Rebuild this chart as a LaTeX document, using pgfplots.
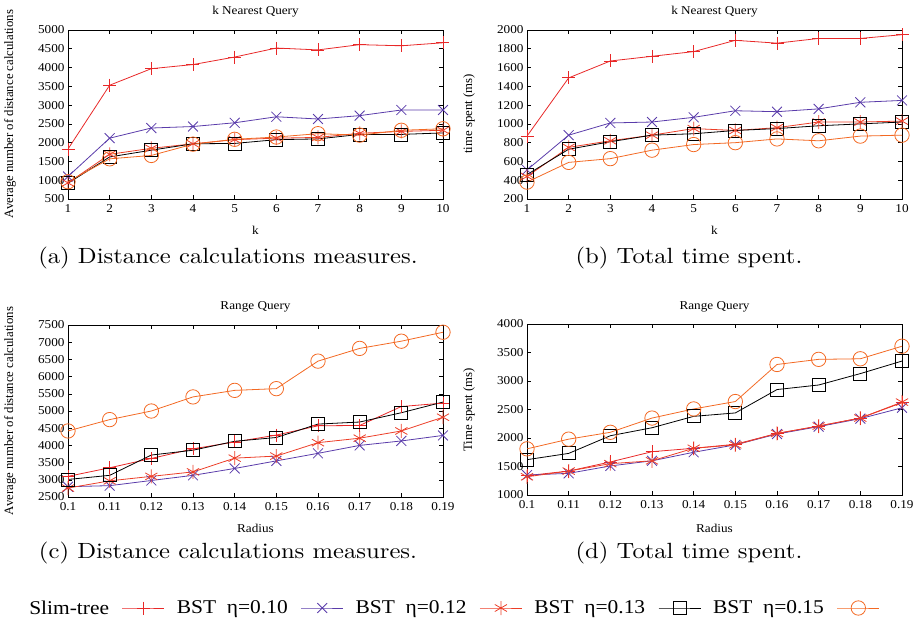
\documentclass[border=0pt]{standalone}
\usepackage{fontspec}
\setmainfont{Liberation Serif}
\newfontfamily\axfont[FakeStretch=1.1]{Liberation Serif}
\newfontfamily\capfont[FakeStretch=1.12,Extension=.otf]{lmroman10-regular}
\usepackage{pgfplots}
\usepackage{pgfplotstable}
\pgfplotsset{compat=1.18}

\definecolor{slimred}{RGB}{232,40,40}
\definecolor{bstpurple}{RGB}{90,60,170}
\definecolor{bstred}{RGB}{236,62,40}
\definecolor{bstorange}{RGB}{243,105,35}

% k nearest: distance calculations
\pgfplotstableread{
k  slim b10  b12  b13  b15
1  1830 1100 930  920  960
2  3530 2120 1690 1620 1570
3  3970 2390 1850 1800 1660
4  4080 2430 1970 1970 1960
5  4280 2530 2080 1980 2090
6  4520 2690 2120 2080 2150
7  4470 2630 2140 2100 2240
8  4610 2720 2250 2220 2200
9  4580 2870 2300 2220 2330
10 4660 2870 2330 2260 2370
}\tabA

% k nearest: time
\pgfplotstableread{
k  slim b10  b12  b13  b15
1  870  510  440  460  380
2  1490 880  750  730  590
3  1670 1010 820  810  630
4  1720 1020 880  880  720
5  1770 1070 950  895  780
6  1890 1140 930  930  800
7  1860 1130 960  950  840
8  1910 1160 1020 980  820
9  1910 1230 1020 1000 870
10 1950 1250 1030 1020 880
}\tabB

% range: distance calculations
\pgfplotstableread{
r    slim b10  b12  b13  b15
0.10 3100 2800 2760 3010 4420
0.11 3350 2830 2970 3130 4750
0.12 3620 2980 3100 3720 5000
0.13 3900 3130 3230 3860 5410
0.14 4100 3330 3630 4120 5600
0.15 4300 3550 3690 4230 5650
0.16 4570 3770 4080 4620 6450
0.17 4580 4000 4210 4680 6820
0.18 5130 4130 4420 4950 7030
0.19 5230 4290 4820 5260 7290
}\tabC

% range: time
\pgfplotstableread{
r    slim b10  b12  b13  b15
0.10 1340 1350 1320 1620 1810
0.11 1420 1380 1420 1730 1980
0.12 1580 1510 1550 2040 2100
0.13 1760 1600 1600 2180 2350
0.14 1820 1750 1820 2380 2510
0.15 1890 1880 1880 2440 2640
0.16 2080 2070 2080 2850 3290
0.17 2210 2200 2210 2930 3380
0.18 2350 2340 2350 3130 3390
0.19 2620 2530 2630 3350 3610
}\tabD

\newcommand\axsize{\axfont\fontsize{12}{14}\selectfont}

\pgfplotsset{
  panel/.style={
    scale only axis, width=375pt, anchor=south west,
    axis line style={black, line width=0.6pt},
    tick style={black, line width=0.6pt}, major tick length=4pt,
    tick label style={font=\axsize},
    xticklabel style={yshift=-2pt},
    /pgf/number format/assume math mode=true,
    /pgf/number format/1000 sep={},
    scaled ticks=false,
    every axis plot/.append style={line width=0.8pt},
  },
  kpanel/.style={panel, xmin=1, xmax=10, xtick={1,...,10}},
  rpanel/.style={panel, xmin=0.1, xmax=0.19,
    xtick={0.10,0.11,0.12,0.13,0.14,0.15,0.16,0.17,0.18,0.19},
    xticklabels={0.1,0.11,0.12,0.13,0.14,0.15,0.16,0.17,0.18,0.19}},
  sslim/.style={color=slimred, mark=+, mark size=6.5pt, mark options={solid}},
  sb10/.style={color=bstpurple, mark=x, mark size=7pt, mark options={solid}},
  sb12/.style={color=bstred, mark=asterisk, mark size=7pt, mark options={solid}},
  sb13/.style={color=black, mark=square, mark size=6.5pt, mark options={solid}},
  sb15/.style={color=bstorange, mark=o, mark size=7.2pt, mark options={solid}},
}

\begin{document}
\begin{tikzpicture}
\path[use as bounding box] (0pt,0pt) rectangle (918pt,-619pt);

\begin{axis}[kpanel, at={(68pt,-199pt)}, height=169pt,
  ymin=500, ymax=5000, ytick={500,1000,...,5000}]
\addplot[sslim] table[x=k,y=slim] {\tabA};
\addplot[sb10] table[x=k,y=b10] {\tabA};
\addplot[sb12] table[x=k,y=b12] {\tabA};
\addplot[sb13] table[x=k,y=b13] {\tabA};
\addplot[sb15] table[x=k,y=b15] {\tabA};
\end{axis}

\begin{axis}[kpanel, at={(527pt,-199pt)}, height=169pt,
  ymin=200, ymax=2000, ytick={200,400,...,2000}]
\addplot[sslim] table[x=k,y=slim] {\tabB};
\addplot[sb10] table[x=k,y=b10] {\tabB};
\addplot[sb12] table[x=k,y=b12] {\tabB};
\addplot[sb13] table[x=k,y=b13] {\tabB};
\addplot[sb15] table[x=k,y=b15] {\tabB};
\end{axis}

\begin{axis}[rpanel, at={(68pt,-497pt)}, height=172pt,
  ymin=2500, ymax=7500, ytick={2500,3000,...,7500}]
\addplot[sslim] table[x=r,y=slim] {\tabC};
\addplot[sb10] table[x=r,y=b10] {\tabC};
\addplot[sb12] table[x=r,y=b12] {\tabC};
\addplot[sb13] table[x=r,y=b13] {\tabC};
\addplot[sb15] table[x=r,y=b15] {\tabC};
\end{axis}

\begin{axis}[rpanel, at={(527pt,-495pt)}, height=171pt,
  ymin=1000, ymax=4000, ytick={1000,1500,...,4000}]
\addplot[sslim] table[x=r,y=slim] {\tabD};
\addplot[sb10] table[x=r,y=b10] {\tabD};
\addplot[sb12] table[x=r,y=b12] {\tabD};
\addplot[sb13] table[x=r,y=b13] {\tabD};
\addplot[sb15] table[x=r,y=b15] {\tabD};
\end{axis}

% titles and axis labels
\begin{scope}[every node/.style={font=\axsize, anchor=center}]
\node at (255.5pt,-12pt) {k Nearest Query};
\node at (714.5pt,-12pt) {k Nearest Query};
\node at (255.5pt,-307pt) {Range Query};
\node at (714.5pt,-307pt) {Range Query};
\node at (255.5pt,-230pt) {k};
\node at (714.5pt,-230pt) {k};
\node at (255.5pt,-528pt) {Radius};
\node at (714.5pt,-528pt) {Radius};
\end{scope}
\begin{scope}[every node/.style={font=\rmfamily\fontsize{12.8}{14}\selectfont, anchor=center, rotate=90}]
\node at (10pt,-114pt) {Average number of distance calculations};
\node at (469pt,-114pt) {time spent (ms)};
\node at (10pt,-411pt) {Average number of distance calculations};
\node at (469pt,-410pt) {Time spent (ms)};
\end{scope}

% sub-captions
\node[font=\capfont\fontsize{22}{24}\selectfont, anchor=center] at (228pt,-258pt) {(a) Distance calculations measures.};
\node[font=\capfont\fontsize{22}{24}\selectfont, anchor=center] at (689pt,-258pt) {(b) Total time spent.};
\node[font=\capfont\fontsize{22}{24}\selectfont, anchor=center] at (228pt,-553pt) {(c) Distance calculations measures.};
\node[font=\capfont\fontsize{22}{24}\selectfont, anchor=center] at (689pt,-553pt) {(d) Total time spent.};

% shared legend
\begin{axis}[hide axis, scale only axis, width=918pt, height=30pt,
  at={(0pt,-619pt)}, anchor=south west,
  xmin=0, xmax=1, ymin=0, ymax=1,
  legend columns=5, legend plot pos=right,
  legend image code/.code={\draw[mark repeat=2,mark phase=2,line width=0.8pt,#1] plot coordinates {(0pt,0pt) (21pt,0pt) (42pt,0pt)};},
  legend style={at={(axis description cs:0.494,0.367)}, anchor=center, draw=none, fill=none,
    font=\axfont\fontsize{19.5}{21}\selectfont, inner sep=0pt,
    /tikz/every odd column/.append style={column sep=11pt},
    /tikz/every even column/.append style={column sep=10pt}}]
\addlegendimage{sslim}
\addlegendentry{Slim-tree}
\addlegendimage{sb10}
\addlegendentry{BST~~η=0.10}
\addlegendimage{sb12}
\addlegendentry{BST~~η=0.12}
\addlegendimage{sb13}
\addlegendentry{BST~~η=0.13}
\addlegendimage{sb15}
\addlegendentry{BST~~η=0.15}
\end{axis}
\end{tikzpicture}
\end{document}
